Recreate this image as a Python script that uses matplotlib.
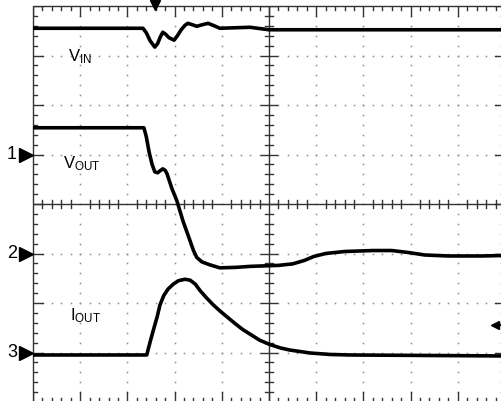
import numpy as np
import matplotlib
matplotlib.use("Agg")
import matplotlib.pyplot as plt

plt.rcParams["font.family"] = ["Liberation Sans", "DejaVu Sans"]
plt.rcParams["mathtext.default"] = "regular"

# scope screen: 10 x 8 divisions, values in divisions (0 = bottom edge)
vin_t = [0, 2.33, 2.40, 2.48, 2.58, 2.64, 2.70, 2.75, 2.81, 2.88, 2.99, 3.06, 3.14, 3.22, 3.28,
         3.38, 3.47, 3.58, 3.71, 3.84, 3.96, 4.6, 5.0, 10]
vin_v = [7.55, 7.55, 7.46, 7.30, 7.17, 7.24, 7.38, 7.47, 7.43, 7.36, 7.31, 7.40, 7.52, 7.61, 7.65,
         7.62, 7.59, 7.62, 7.65, 7.60, 7.55, 7.57, 7.52, 7.52]

vout_t = [0, 2.35, 2.40, 2.46, 2.52, 2.58, 2.64, 2.69, 2.75, 2.80, 2.84, 2.94, 3.05, 3.18, 3.33,
          3.40, 3.47, 3.58, 3.75, 3.96, 4.30, 4.60, 5.20, 5.50, 5.75, 5.95, 6.20, 6.60, 7.20,
          7.60, 7.95, 8.30, 8.80, 9.50, 10]
vout_v = [5.54, 5.54, 5.36, 5.05, 4.81, 4.65, 4.63, 4.67, 4.71, 4.68, 4.61, 4.32, 4.06, 3.65, 3.25,
          3.06, 2.92, 2.83, 2.77, 2.71, 2.72, 2.74, 2.76, 2.79, 2.86, 2.94, 3.00, 3.04, 3.06,
          3.06, 3.02, 2.97, 2.95, 2.95, 2.96]

iout_t = [0, 2.41, 2.45, 2.50, 2.57, 2.63, 2.69, 2.77, 2.86, 2.97, 3.08, 3.22, 3.33, 3.44, 3.54,
          3.68, 3.81, 3.96, 4.11, 4.30, 4.45, 4.60, 4.80, 5.02, 5.25, 5.44, 5.87, 6.30, 6.72, 10]
iout_v = [0.95, 0.95, 1.10, 1.28, 1.52, 1.72, 1.96, 2.15, 2.28, 2.38, 2.45, 2.48, 2.46, 2.38, 2.25,
          2.10, 1.97, 1.84, 1.72, 1.57, 1.46, 1.37, 1.25, 1.16, 1.09, 1.05, 0.99, 0.96, 0.95, 0.93]

ch_levels = [5.0, 3.0, 1.0]   # ground markers for channels 1, 2, 3
ch_names = ["1", "2", "3"]
trig_time = 2.58
trig_level = 1.56

NX, NY = 10, 8
fig = plt.figure(figsize=(5.02, 4.01), dpi=100)
ax = fig.add_axes([33 / 502, -1 / 401, 472 / 502, 396 / 401])
ax.set_xlim(0, NX)
ax.set_ylim(0, NY)
ax.axis("off")

pxx = 472 / NX   # pixels per division
pxy = 396 / NY

# dotted graticule
minor_x = np.arange(0, NX + 0.01, 0.2)
minor_y = np.arange(0, NY + 0.01, 0.2)
for gx in range(1, NX):
    if gx == NX // 2:
        continue
    ax.plot(np.full_like(minor_y, gx), minor_y, ls="none", marker="s", ms=1.1,
            mec="none", mfc="#8a8a8a")
for gy in range(1, NY):
    if gy == NY // 2:
        continue
    ax.plot(minor_x, np.full_like(minor_x, gy), ls="none", marker="s", ms=1.1,
            mec="none", mfc="#8a8a8a")

# border and centre lines
lc = "#333333"
ax.plot([0, NX, NX, 0, 0], [0, 0, NY, NY, 0], color=lc, lw=1.0, clip_on=False)
ax.plot([NX / 2, NX / 2], [0, NY], color=lc, lw=1.0)
ax.plot([0, NX], [NY / 2, NY / 2], color=lc, lw=1.0)

# ticks
for x in minor_x:
    major = abs(x - round(x)) < 1e-6
    ln = (10 if major else 4) / pxy
    ax.plot([x, x], [NY, NY - ln], color=lc, lw=1.0)
    ax.plot([x, x], [0, ln], color=lc, lw=1.0)
    if not major:
        ax.plot([x, x], [NY / 2 - 4 / pxy, NY / 2 + 4 / pxy], color=lc, lw=1.0)
for y in minor_y:
    major = abs(y - round(y)) < 1e-6
    ln = (10 if major else 4) / pxx
    ax.plot([0, ln], [y, y], color=lc, lw=1.0)
    ax.plot([NX, NX - ln], [y, y], color=lc, lw=1.0)
    hl = (8 if major else 4) / pxx
    ax.plot([NX / 2 - hl, NX / 2 + hl], [y, y], color=lc, lw=1.0)

# traces
for t, v in [(vin_t, vin_v), (vout_t, vout_v), (iout_t, iout_v)]:
    ax.plot(t, v, color="black", lw=2.6, solid_joinstyle="round", zorder=5)

# labels
ax.text(0.74, 6.88, "V$_{IN}$", fontsize=12, ha="left", va="baseline")
ax.text(0.64, 4.73, "V$_{OUT}$", fontsize=12, ha="left", va="baseline")
ax.text(0.78, 1.66, "I$_{OUT}$", fontsize=12, ha="left", va="baseline")

# channel ground markers
for lvl, name in zip(ch_levels, ch_names):
    ax.plot([-7 / pxx], [lvl], marker=">", ms=10, color="black", clip_on=False)
    ax.text(-21 / pxx, lvl, name, fontsize=13, ha="center", va="center")

# trigger markers
ax.plot([trig_time], [NY + 1 / pxy], marker="v", ms=7, color="black", clip_on=False, zorder=6)
ax.plot([9.79], [trig_level], marker="<", ms=6, color="black", zorder=6)
ax.plot([9.79, 10], [trig_level, trig_level], color="black", lw=1.5)

fig.savefig("out.png", dpi=100)
